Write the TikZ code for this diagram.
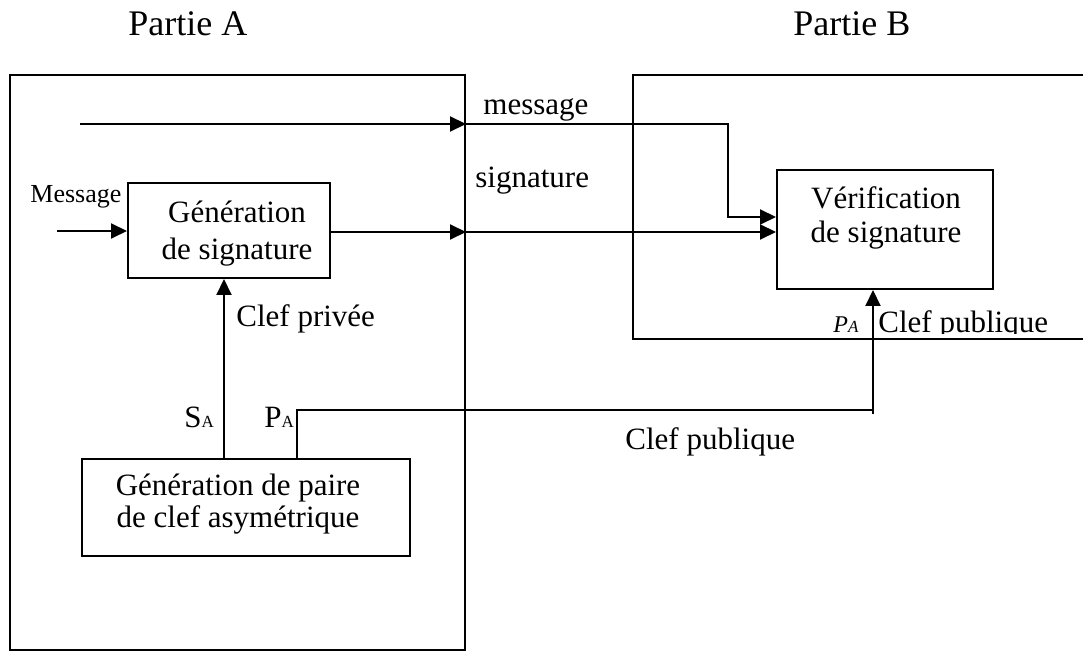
\documentclass[tikz,border=0pt]{standalone}
\usepackage{fontspec}
\setmainfont{Liberation Serif}
\usetikzlibrary{arrows.meta}
\newcommand\fsmain{\fontsize{15.5}{17.5}\selectfont}
\newcommand\fstitle{\fontsize{18}{21}\selectfont}
\newcommand\fssmall{\fontsize{13}{15}\selectfont}
\newcommand\fsidx{\fontsize{8.5}{10}\selectfont}
\begin{document}
\begin{tikzpicture}[x=0.5pt,y=-0.5pt,
  wire/.style={line width=1pt},
  flow/.style={wire,-{Triangle[length=8pt,width=7.5pt]}},
  block/.style={draw,line width=1pt,rectangle,inner sep=0pt},
  lbl/.style={anchor=base west,inner sep=0pt,font=\fsmain},
  line/.style={anchor=base,inner sep=0pt,font=\fsmain}]
\useasboundingbox (0,0) rectangle (1083,652);

% the two parties
\node[block,minimum width=227.5pt,minimum height=287.5pt] (partA) at (237.5,362.5) {};
\node[block,minimum width=226pt,minimum height=132pt] (partB) at (859,207) {};

% processing blocks and their text lines
\node[block,minimum width=101pt,minimum height=47.5pt] (gensig) at (229,230.5) {};
\node[line] (gensig1) at (237,223) {Génération};
\node[line] (gensig2) at (237,260) {de signature};

\node[block,minimum width=108pt,minimum height=59.5pt] (verif) at (885,229.5) {};
\node[line] (verif1) at (886,209) {Vérification};
\node[line] (verif2) at (886,243) {de signature};

\node[block,minimum width=164pt,minimum height=48.5pt] (keygen) at (246,507.5) {};
\node[line] (keygen1) at (238,495) {Génération de paire};
\node[line] (keygen2) at (238,528) {de clef asymétrique};

% headings
\node[lbl,font=\fstitle] (titleA) at (128,36) {Partie A};
\node[lbl,font=\fstitle] (titleB) at (793,36) {Partie B};

% message path
\coordinate (msgIn) at (80,124);
\coordinate (msgBend) at (728,124);
\coordinate (msgDown) at (728,217);
\draw[flow] (msgIn) -- (partA.east |- msgIn);
\draw[flow] (partA.east |- msgIn) -- (msgBend) -- (msgDown) -- (verif.west |- msgDown);
\node[lbl] (msgLbl) at (483,115) {message};

% message input to the signing block
\coordinate (msgSrc) at (57,231);
\draw[flow] (msgSrc) -- (gensig.west |- msgSrc);
\node[lbl,font=\fssmall] (msgSrcLbl) at (30,203) {Message};

% signature path
\coordinate (sigY) at (0,232);
\draw[flow] (gensig.east |- sigY) -- (partA.east |- sigY);
\draw[flow] (partA.east |- sigY) -- (verif.west |- sigY);
\node[lbl] (sigLbl) at (475,188) {signature};

% private key
\coordinate (sKey) at (224,0);
\draw[flow] (keygen.north -| sKey) -- (gensig.south -| sKey);
\node[lbl] (privLbl) at (236,327) {Clef privée};
\node[lbl] (sIdx) at (184,428) {S{\fsidx A}};

% public key
\coordinate (pKey) at (297,0);
\coordinate (pCorner) at (873,410);
\coordinate (pTail) at (873,414);
\draw[wire] (keygen.north -| pKey) |- (pCorner);
\draw[flow] (pTail) -- (verif.south -| pTail);
\node[lbl] (pIdx) at (264,428) {P{\fsidx A}};
\node[lbl] (pubLbl) at (625,450) {Clef publique};

% public key label inside part B, cut at its lower edge
\begin{scope}
  \clip (800,290) rectangle (1083,334);
  \node[lbl,font=\fontsize{12}{14}\selectfont\itshape] (pIdxB) at (833,333) {P{\fsidx A}};
  \node[lbl] (pubLblB) at (878,333) {Clef publique};
\end{scope}
\end{tikzpicture}
\end{document}
